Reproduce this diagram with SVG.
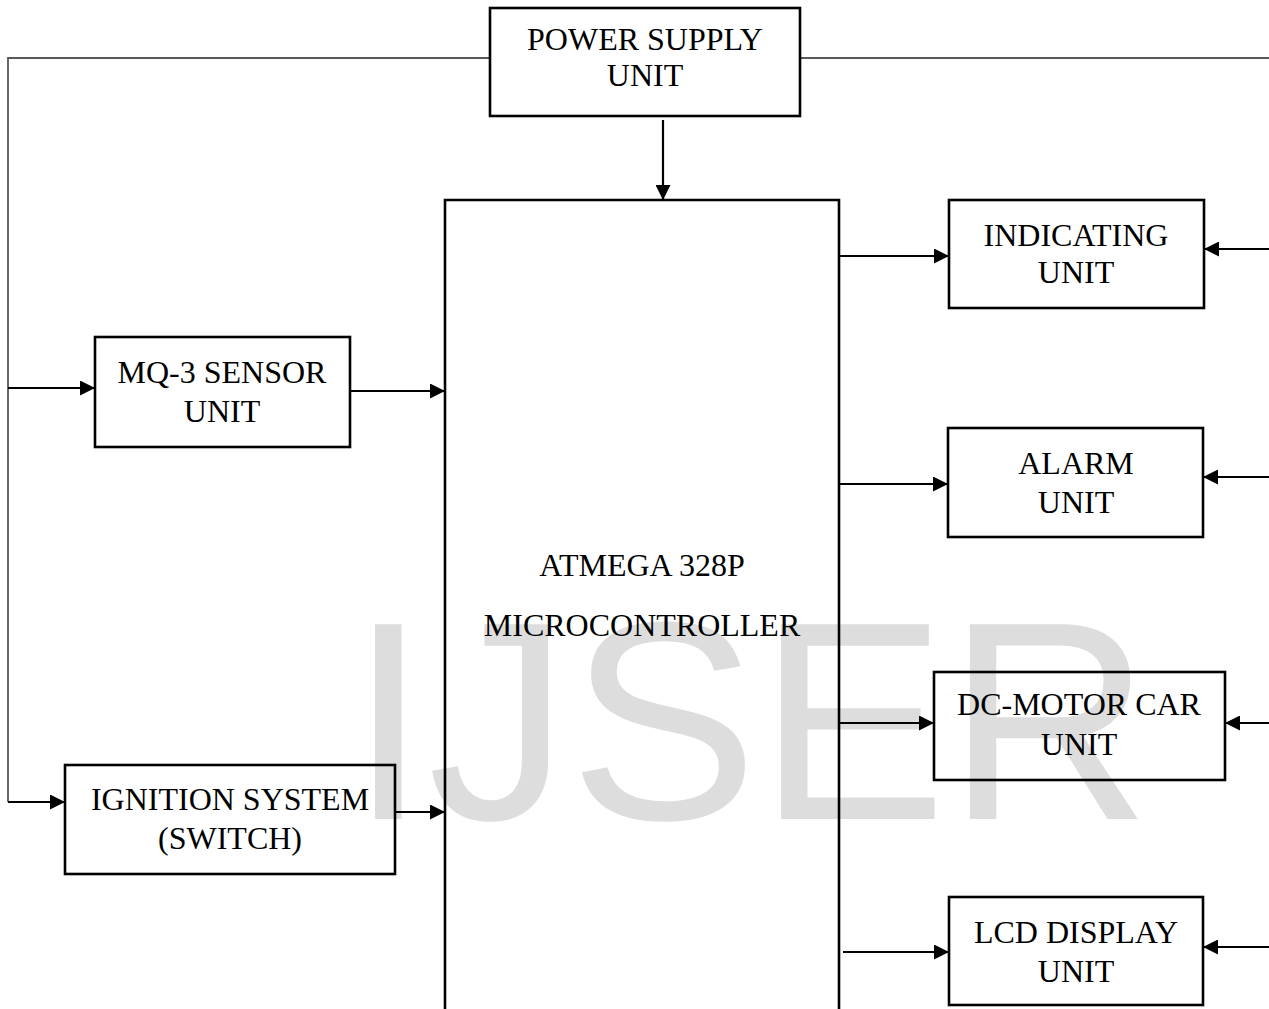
<svg xmlns="http://www.w3.org/2000/svg" width="1269" height="1009" viewBox="0 0 1269 1009">
  <style>
    .box { fill: none; stroke: #000; stroke-width: 2.6; }
    .lbl { font-family: "Liberation Serif", "Times New Roman", serif; font-size: 32px; fill: #000; text-anchor: middle; }
    .wire { fill: none; stroke: #000; stroke-width: 2.2; }
    .grey { fill: none; stroke: #595959; stroke-width: 1.8; }
    .wm { font-family: "Liberation Sans", Arial, sans-serif; font-size: 283px; fill: #dddddd; }
  </style>
  <defs>
    <marker id="arr" markerUnits="userSpaceOnUse" markerWidth="15" markerHeight="15" refX="15" refY="7.5" orient="auto">
      <path d="M0,0 L15,7.5 L0,15 z" fill="#000"/>
    </marker>
  </defs>
  <rect width="1269" height="1009" fill="#fff"/>
  <text class="wm" x="349" y="819">IJSER</text>

  <g id="connectors">
    <path class="grey" d="M490,58 H8 V802"/>
    <path class="grey" d="M800,58 H1269"/>
    <path class="wire" d="M8,388 H95" marker-end="url(#arr)"/>
    <path class="wire" d="M8,802 H65" marker-end="url(#arr)"/>
    <path class="wire" d="M663,120 V200" marker-end="url(#arr)"/>
    <path class="wire" d="M350,391 H445" marker-end="url(#arr)"/>
    <path class="wire" d="M395,812 H445" marker-end="url(#arr)"/>
    <path class="wire" d="M840,256 H949" marker-end="url(#arr)"/>
    <path class="wire" d="M840,484 H948" marker-end="url(#arr)"/>
    <path class="wire" d="M840,723 H934" marker-end="url(#arr)"/>
    <path class="wire" d="M843,952 H949" marker-end="url(#arr)"/>
    <path class="wire" d="M1269,249 H1204" marker-end="url(#arr)"/>
    <path class="wire" d="M1269,477 H1203" marker-end="url(#arr)"/>
    <path class="wire" d="M1269,723 H1225" marker-end="url(#arr)"/>
    <path class="wire" d="M1269,947 H1203" marker-end="url(#arr)"/>
  </g>

  <g id="power">
    <rect class="box" x="490" y="8" width="310" height="108"/>
    <text class="lbl" x="645" y="50">POWER SUPPLY</text>
    <text class="lbl" x="645" y="86">UNIT</text>
  </g>
  <g id="mcu">
    <path class="box" d="M445,1012 V200 H839 V1012"/>
    <text class="lbl" x="642" y="576">ATMEGA 328P</text>
    <text class="lbl" x="642" y="636">MICROCONTROLLER</text>
  </g>
  <g id="mq3">
    <rect class="box" x="95" y="337" width="255" height="110"/>
    <text class="lbl" x="222" y="383">MQ-3 SENSOR</text>
    <text class="lbl" x="222" y="422">UNIT</text>
  </g>
  <g id="ignition">
    <rect class="box" x="65" y="765" width="330" height="109"/>
    <text class="lbl" x="230" y="810">IGNITION SYSTEM</text>
    <text class="lbl" x="230" y="849">(SWITCH)</text>
  </g>
  <g id="indicating">
    <rect class="box" x="949" y="200" width="255" height="108"/>
    <text class="lbl" x="1076" y="246">INDICATING</text>
    <text class="lbl" x="1076" y="283">UNIT</text>
  </g>
  <g id="alarm">
    <rect class="box" x="948" y="428" width="255" height="109"/>
    <text class="lbl" x="1076" y="474">ALARM</text>
    <text class="lbl" x="1076" y="513">UNIT</text>
  </g>
  <g id="dcmotor">
    <rect class="box" x="934" y="672" width="291" height="108"/>
    <text class="lbl" x="1079" y="715">DC-MOTOR CAR</text>
    <text class="lbl" x="1079" y="755">UNIT</text>
  </g>
  <g id="lcd">
    <rect class="box" x="949" y="897" width="254" height="108"/>
    <text class="lbl" x="1076" y="943">LCD DISPLAY</text>
    <text class="lbl" x="1076" y="982">UNIT</text>
  </g>
</svg>
